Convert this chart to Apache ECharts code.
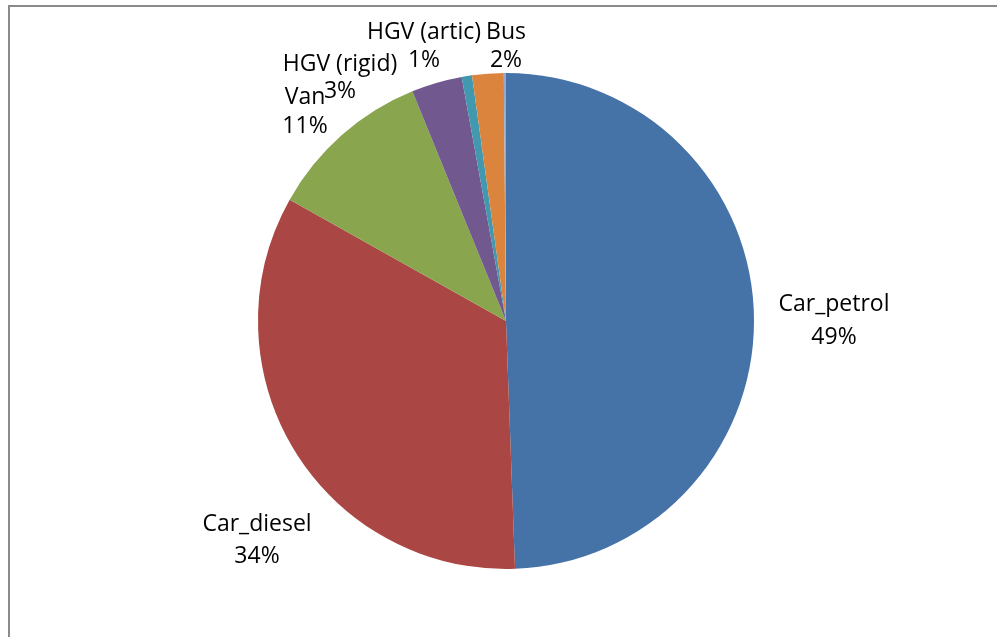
<!DOCTYPE html>
<html>
<head>
<meta charset="utf-8">
<script src="https://cdn.jsdelivr.net/npm/echarts@6/dist/echarts.min.js"></script>
<style>
  html, body { margin: 0; padding: 0; background: #fff; }
  #frame {
    position: absolute; left: 8px; top: 5px; width: 1100px; height: 700px;
    border: 2px solid #8a8a8a; box-sizing: border-box;
  }
  #chart { position: absolute; left: 0; top: 0; width: 997px; height: 637px; }
</style>
</head>
<body>
<div id="frame"></div>
<div id="chart"></div>
<script>
// vehicle shares (percent)
const categories = ["Car_petrol", "Car_diesel", "Van", "HGV (rigid)", "HGV (artic)", "Bus", "Motorcycle"];
const shares = [49.4, 33.7, 10.7, 3.3, 0.67, 2.05, 0.14];
const colors = ["#4572a7", "#aa4643", "#89a54e", "#71588f", "#4198af", "#db843d", "#93a9cf"];

// label block centre [x, y] and line spacing, as Excel placed them
const labelSpots = [
  [834, 321, 33], [257, 540, 32], [305, 112, 29], [340, 78, 27], [424, 46, 28], [506, 46, 28], null
];

const myChart = echarts.init(document.getElementById("chart"));
myChart.setOption({
  animation: false,
  series: [
    {
      type: "pie",
      center: [506, 321],
      radius: 248,
      startAngle: 90,
      clockwise: true,
      avoidLabelOverlap: false,
      data: categories.map((name, i) => ({
        name: name,
        value: shares[i],
        itemStyle: { color: colors[i] },
        label: labelSpots[i]
          ? { show: true, lineHeight: labelSpots[i][2] }
          : { show: false },
      })),
      itemStyle: { borderWidth: 0 },
      label: {
        show: true,
        position: "outside",
        color: "#000",
        fontFamily: "Open Sans",
        fontSize: 23,
        align: "center",
        formatter: (p) => p.name + "\n" + Math.round(p.percent) + "%",
      },
      labelLine: { show: false },
      labelLayout: function (params) {
        const spot = labelSpots[params.dataIndex];
        if (!spot) return {};
        return {
          x: spot[0],
          y: spot[1],
          align: "center",
          verticalAlign: "middle",
        };
      },
    },
  ],
});
</script>
</body>
</html>
